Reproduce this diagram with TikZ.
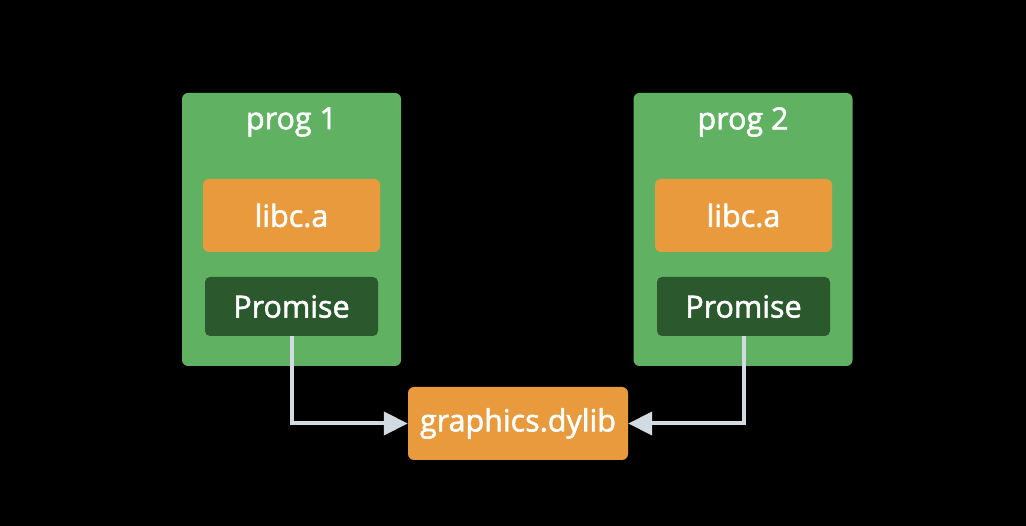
\documentclass[tikz,border=0pt]{standalone}
\usepackage{fontspec}
\setmainfont{Open Sans}
\newfontfamily\labfont{Open Sans}[FakeBold=1.8]
\usetikzlibrary{arrows.meta}
\definecolor{bgc}{RGB}{0,0,0}
\definecolor{progc}{RGB}{96,178,98}
\definecolor{orangec}{RGB}{232,154,60}
\definecolor{darkc}{RGB}{44,88,46}
\definecolor{arrc}{RGB}{210,218,226}
\tikzset{
  labtext/.style={text=white, font=\labfont\fontsize{30.5}{32}\selectfont},
  progbox/.style={fill=progc, rounded corners=6pt, minimum width=219pt, minimum height=273pt, inner sep=0pt},
  libbox/.style={labtext, fill=orangec, rounded corners=6pt, minimum width=177pt, minimum height=73pt, inner sep=0pt},
  promisebox/.style={labtext, fill=darkc, rounded corners=5pt, minimum width=173pt, minimum height=59pt, inner sep=0pt},
  titletext/.style={labtext, inner sep=0pt},
  link/.style={draw=arrc, line width=4pt, -{Triangle[length=24pt,width=23pt]}}
}
\begin{document}
\begin{tikzpicture}[x=1pt,y=-1pt]
\fill[bgc] (0,0) rectangle (1026,526);
\useasboundingbox (0,0) rectangle (1026,526);
\node[progbox] (p1) at (291.5,229.5) {};
\node[progbox] (p2) at (743,229.5) {};
\node[titletext] (t1) at (291.5,122) {prog 1};
\node[titletext] (t2) at (743,122) {prog 2};
\node[libbox] (l1) at (291.5,215.5) {libc.a};
\node[libbox] (l2) at (743.5,215.5) {libc.a};
\node[promisebox] (m1) at (291.5,306.5) {Promise};
\node[promisebox] (m2) at (743.5,306.5) {Promise};
\node[libbox, minimum width=220pt] (g) at (518,423.5) {graphics.dylib};
\draw[link] (m1.south) -- (m1.south |- g.west) -- (g.west);
\draw[link] (m2.south) -- (m2.south |- g.east) -- (g.east);
\end{tikzpicture}
\end{document}
